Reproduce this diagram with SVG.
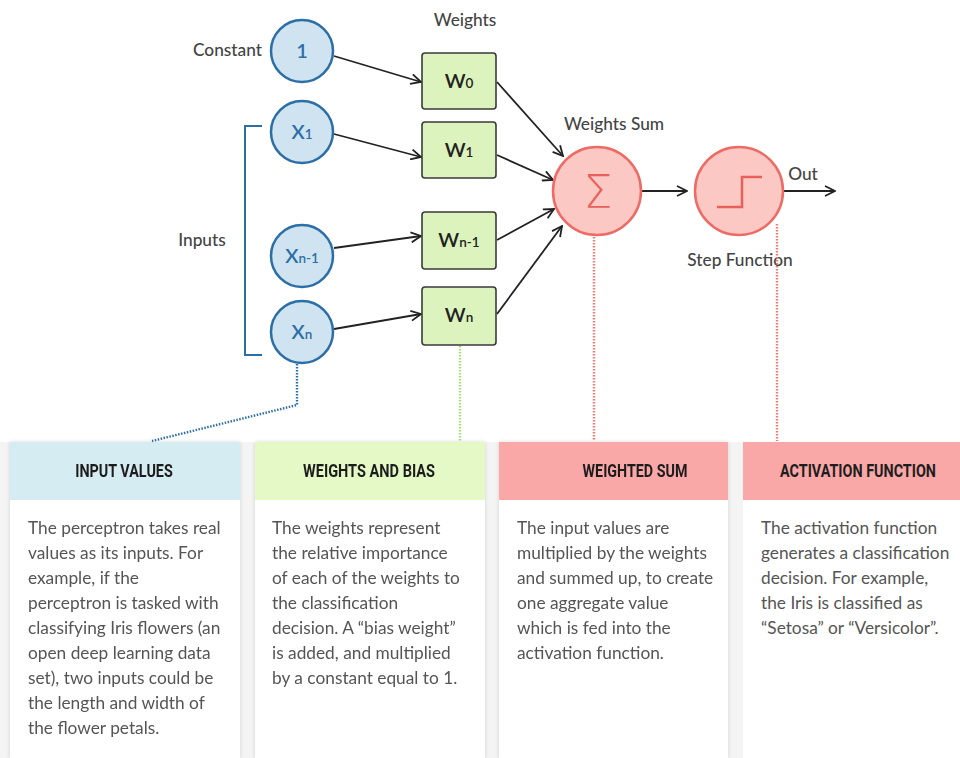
<svg xmlns="http://www.w3.org/2000/svg" width="960" height="758" viewBox="0 0 960 758">
<defs>
<marker id="arr" viewBox="0 0 12 12" refX="11" refY="6" markerWidth="12" markerHeight="12" markerUnits="userSpaceOnUse" orient="auto">
<path d="M1,1 L11,6 L1,11" fill="none" stroke="#222" stroke-width="1.8"/>
</marker>
<filter id="sh" x="-5%" y="-5%" width="110%" height="110%">
<feGaussianBlur in="SourceAlpha" stdDeviation="2"/>
<feOffset dx="0" dy="0"/>
<feComponentTransfer><feFuncA type="linear" slope="0.15"/></feComponentTransfer>
<feMerge><feMergeNode/><feMergeNode in="SourceGraphic"/></feMerge>
</filter>
</defs>
<style>
.lbl{font-family:Lato,"Noto Sans",sans-serif;font-size:17.3px;fill:#444;font-weight:500;}
.inp{fill:#cfe4f0;stroke:#2c6ea6;stroke-width:2.5;}
.inT{font-family:Lato,"Noto Sans",sans-serif;font-size:20px;fill:#2c6ea6;text-anchor:middle;font-weight:600;}
.wb{fill:#dcf3bd;stroke:#3a3a3a;stroke-width:1.6;}
.wT{font-family:Lato,"Noto Sans",sans-serif;font-size:20px;fill:#222;text-anchor:middle;font-weight:600;}
.sub{font-size:13.5px;}
.red{fill:#fbc8c4;stroke:#ee6b65;stroke-width:2.5;}
.conn line,.conn path{stroke:#222;stroke-width:1.8;fill:none;marker-end:url(#arr);}
.dot{fill:none;stroke-width:2.4;stroke-dasharray:1.5 1.5;}
.hd{font-family:Roboto,"Liberation Sans",sans-serif;font-size:18px;font-weight:700;fill:#1e1e1e;text-anchor:middle;}
.body{font-family:Lato,"Noto Sans",sans-serif;font-size:17.3px;fill:#555;}
</style>
<rect x="0" y="0" width="960" height="758" fill="#ffffff"/>

<!-- panels -->
<g id="panels">
<rect x="0" y="442" width="960" height="316" fill="#f4f4f4"/>
<g id="panel-input" filter="url(#sh)">
<rect x="10" y="442" width="230" height="316" fill="#ffffff"/>
<rect x="10" y="442" width="230" height="58" fill="#d5ecf3"/>
<text class="hd" transform="translate(124,477) scale(0.8,1)" x="0" y="0" textLength="122" lengthAdjust="spacingAndGlyphs">INPUT VALUES</text>
<text class="body"><tspan x="28" y="534">The perceptron takes real</tspan><tspan x="28" y="559">values as its inputs. For</tspan><tspan x="28" y="584">example, if the</tspan><tspan x="28" y="609">perceptron is tasked with</tspan><tspan x="28" y="634">classifying Iris flowers (an</tspan><tspan x="28" y="659">open deep learning data</tspan><tspan x="28" y="684">set), two inputs could be</tspan><tspan x="28" y="709">the length and width of</tspan><tspan x="28" y="734">the flower petals.</tspan></text>
</g>
<g id="panel-weights" filter="url(#sh)">
<rect x="255" y="442" width="230" height="316" fill="#ffffff"/>
<rect x="255" y="442" width="230" height="58" fill="#e4f9c5"/>
<text class="hd" transform="translate(369,477) scale(0.8,1)" x="0" y="0" textLength="165" lengthAdjust="spacingAndGlyphs">WEIGHTS AND BIAS</text>
<text class="body"><tspan x="272" y="534">The weights represent</tspan><tspan x="272" y="559">the relative importance</tspan><tspan x="272" y="584">of each of the weights to</tspan><tspan x="272" y="609">the classification</tspan><tspan x="272" y="634">decision. A “bias weight”</tspan><tspan x="272" y="659">is added, and multiplied</tspan><tspan x="272" y="684">by a constant equal to 1.</tspan></text>
</g>
<g id="panel-sum" filter="url(#sh)">
<rect x="499" y="442" width="229" height="316" fill="#ffffff"/>
<rect x="499" y="442" width="229" height="58" fill="#faa7a7"/>
<text class="hd" transform="translate(635,477) scale(0.8,1)" x="0" y="0" textLength="131" lengthAdjust="spacingAndGlyphs">WEIGHTED SUM</text>
<text class="body"><tspan x="517" y="534">The input values are</tspan><tspan x="517" y="559">multiplied by the weights</tspan><tspan x="517" y="584">and summed up, to create</tspan><tspan x="517" y="609">one aggregate value</tspan><tspan x="517" y="634">which is fed into the</tspan><tspan x="517" y="659">activation function.</tspan></text>
</g>
<g id="panel-activation">
<rect x="743" y="442" width="217" height="316" fill="#ffffff"/>
<rect x="743" y="442" width="217" height="58" fill="#faa7a7"/>
<text class="hd" transform="translate(858,477) scale(0.8,1)" x="0" y="0" textLength="195" lengthAdjust="spacingAndGlyphs">ACTIVATION FUNCTION</text>
<text class="body"><tspan x="761" y="534">The activation function</tspan><tspan x="761" y="559">generates a classification</tspan><tspan x="761" y="584">decision. For example,</tspan><tspan x="761" y="609">the Iris is classified as</tspan><tspan x="761" y="634">“Setosa” or “Versicolor”.</tspan></text>
</g>
</g>

<!-- labels -->
<g id="labels">
<text class="lbl" x="465" y="26" text-anchor="middle">Weights</text>
<text class="lbl" x="262" y="56" text-anchor="end">Constant</text>
<text class="lbl" x="202" y="246" text-anchor="middle">Inputs</text>
<text class="lbl" x="614" y="130" text-anchor="middle">Weights Sum</text>
<text class="lbl" x="803" y="180" text-anchor="middle">Out</text>
<text class="lbl" x="740" y="266" text-anchor="middle">Step Function</text>
</g>

<!-- bracket -->
<path id="bracket" d="M262,126 H245 V355 H262" fill="none" stroke="#2c6ea6" stroke-width="2"/>

<!-- connectors -->
<g id="connectors" class="conn">
<line x1="334" y1="56" x2="421" y2="82"/>
<line x1="334" y1="134" x2="421" y2="157"/>
<line x1="334" y1="248" x2="421" y2="236"/>
<line x1="334" y1="329" x2="421" y2="314"/>
<line x1="497" y1="82" x2="563" y2="156"/>
<line x1="497" y1="155" x2="553" y2="180"/>
<line x1="497" y1="240" x2="554" y2="209"/>
<line x1="497" y1="314" x2="562" y2="226"/>
<line x1="642" y1="191" x2="687" y2="191"/>
<line x1="783" y1="191" x2="835" y2="191"/>
</g>
<g id="dotted">
<path class="dot" stroke="#2c6ea6" d="M297,364 V405 L152,441"/>
<path class="dot" stroke="#a8dc7a" d="M460,346 V441"/>
<path class="dot" stroke="#ee7a74" d="M594,237 V441"/>
<path class="dot" stroke="#ee7a74" d="M777,224 V441"/>
</g>

<!-- input nodes -->
<g id="node-const">
<circle class="inp" cx="302" cy="51" r="31"/>
<text class="inT" x="302" y="58">1</text>
</g>
<g id="node-x1">
<circle class="inp" cx="302" cy="132" r="31"/>
<text class="inT" x="302" y="139">X<tspan class="sub">1</tspan></text>
</g>
<g id="node-xn1">
<circle class="inp" cx="302" cy="256" r="31"/>
<text class="inT" x="302" y="263">X<tspan class="sub">n-1</tspan></text>
</g>
<g id="node-xn">
<circle class="inp" cx="302" cy="332" r="31"/>
<text class="inT" x="302" y="339">X<tspan class="sub">n</tspan></text>
</g>

<!-- weight nodes -->
<g id="node-w0">
<rect class="wb" x="422" y="53" width="74" height="56" rx="3"/>
<text class="wT" x="459" y="88">W<tspan class="sub">0</tspan></text>
</g>
<g id="node-w1">
<rect class="wb" x="422" y="122" width="74" height="56" rx="3"/>
<text class="wT" x="459" y="157">W<tspan class="sub">1</tspan></text>
</g>
<g id="node-wn1">
<rect class="wb" x="422" y="212" width="74" height="57" rx="3"/>
<text class="wT" x="459" y="247">W<tspan class="sub">n-1</tspan></text>
</g>
<g id="node-wn">
<rect class="wb" x="422" y="287" width="74" height="58" rx="3"/>
<text class="wT" x="459" y="322">W<tspan class="sub">n</tspan></text>
</g>

<!-- sum and step -->
<g id="node-sum">
<circle class="red" cx="597" cy="191" r="44"/>
<text x="598" y="208" text-anchor="middle" font-family="'DejaVu Sans',sans-serif" font-size="46" font-weight="200" fill="#e8605a">Σ</text>
</g>
<g id="node-step">
<circle class="red" cx="739" cy="191" r="44"/>
<path d="M717,207 H742 V177 H762" fill="none" stroke="#e8605a" stroke-width="2.5"/>
</g>
</svg>
